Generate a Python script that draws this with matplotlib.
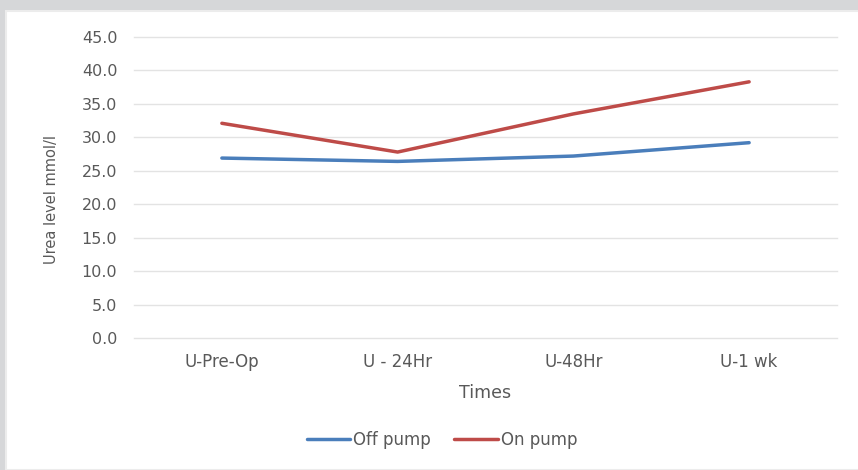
import matplotlib.pyplot as plt
from matplotlib.patches import Rectangle

times = ['U-Pre-Op', 'U - 24Hr', 'U-48Hr', 'U-1 wk']
off_pump = [26.9, 26.4, 27.2, 29.2]
on_pump = [32.1, 27.8, 33.5, 38.3]
yticks = [0, 5, 10, 15, 20, 25, 30, 35, 40, 45]

plt.rcParams['font.family'] = ['DejaVu Sans']
txt = '#595959'

fig = plt.figure(figsize=(8.58, 4.70), dpi=100)
fig.patch.set_facecolor('#d6d7d9')
# white chart panel, behind the axes
fig.patches.append(Rectangle((6 / 858, 0), 1, 1 - 11 / 470, transform=fig.transFigure,
                             facecolor='white', edgecolor='#ececec', lw=1.5, zorder=-10))

ax = fig.add_axes([134 / 858, 1 - 338 / 470, (837 - 134) / 858, (338 - 37) / 470])
ax.set_facecolor('none')
x = range(len(times))
ax.plot(x, off_pump, color='#4a7ebb', lw=2.5, label='Off pump', solid_capstyle='round')
ax.plot(x, on_pump, color='#be4b48', lw=2.5, label='On pump', solid_capstyle='round')

ax.set_xlim(-0.5, 3.5)
ax.set_ylim(0, 45)
ax.set_yticks(yticks)
ax.set_yticklabels([f'{v:.1f}' for v in yticks])
ax.set_xticks(list(x))
ax.set_xticklabels(times)
ax.grid(axis='y', color='#e3e3e3', lw=1)
for gl in ax.get_ygridlines():
    gl.set_clip_on(False)
ax.set_axisbelow(True)
for s in ax.spines.values():
    s.set_visible(False)
ax.tick_params(length=0, colors=txt)
ax.tick_params(axis='y', pad=12, labelsize=11.5)
ax.tick_params(axis='x', pad=11, labelsize=12)

ax.set_xlabel('Times', color=txt, fontsize=12.5, labelpad=9)
ax.set_ylabel('Urea level mmol/l', color=txt, fontsize=10.5)
ax.yaxis.set_label_coords(-0.107, 0.46)

leg = fig.legend(loc='center', bbox_to_anchor=(442 / 858, 1 - 440 / 470), ncol=2, frameon=False,
                 fontsize=12, handlelength=2.6, columnspacing=1.4, handletextpad=0.2)
for t in leg.get_texts():
    t.set_color(txt)

fig.savefig('out.png', dpi=100, facecolor=fig.get_facecolor())
